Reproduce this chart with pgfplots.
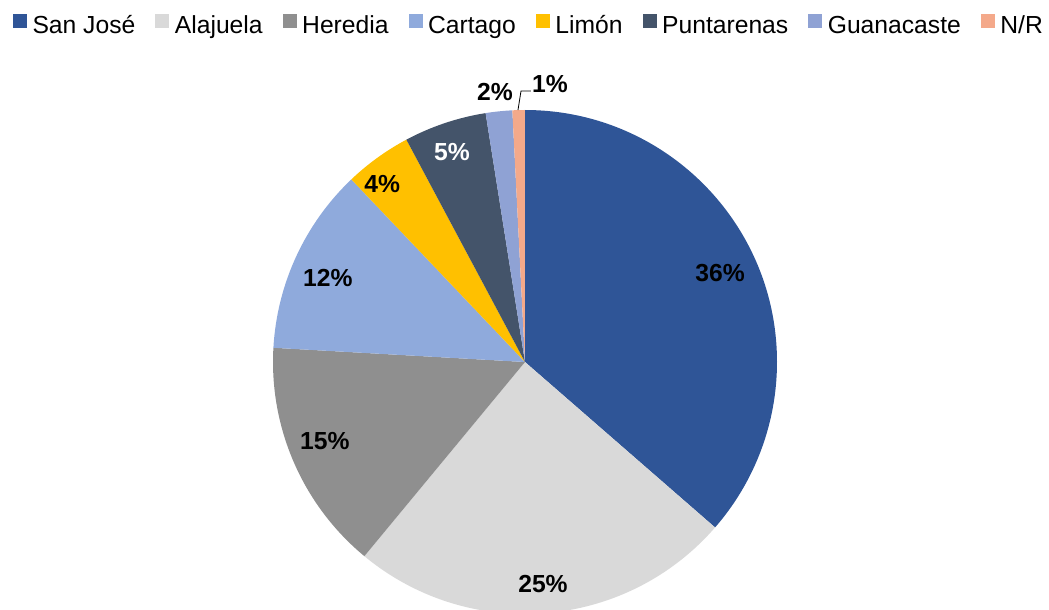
\documentclass[border=0pt]{standalone}
\usepackage{pgfplots}
\pgfplotsset{compat=1.18}
\usepackage{fontspec}
\setmainfont{Liberation Sans}
\definecolor{cSJ}{HTML}{2F5597}
\definecolor{cAL}{HTML}{D9D9D9}
\definecolor{cHE}{HTML}{8F8F8F}
\definecolor{cCA}{HTML}{8FAADC}
\definecolor{cLI}{HTML}{FFC000}
\definecolor{cPU}{HTML}{44546A}
\definecolor{cGU}{HTML}{8FA2D4}
\definecolor{cNR}{HTML}{F4A98A}
% slice: colour, cumulative percent at start, cumulative percent at end
\newcommand{\slice}[3]{\fill[#1] (axis cs:0,0) -- ++({90-3.6*#2}:189pt) arc[start angle={90-3.6*#2}, end angle={90-3.6*#3}, radius=189pt] -- cycle;}
\newcommand{\lab}{\bfseries\fontsize{18.5}{22}\selectfont}
\begin{document}
\begin{tikzpicture}
\begin{axis}[
  hide axis, scale only axis,
  x=189pt, y=189pt,
  xmin=-2.0833, xmax=2.0794, ymin=-0.984, ymax=1.4365,
  clip=false,
  legend columns=8,
  legend style={draw=none, fill=none, inner sep=0pt, outer sep=0pt,
    at={(axis cs:-2.0317,1.337)}, anchor=west,
    font=\fontsize{18.5}{22}\selectfont,
    nodes={inner sep=0pt},
    /tikz/every odd column/.append style={column sep=4.5pt},
    /tikz/every even column/.append style={column sep=15pt}},
  legend image code/.code={\fill[#1] (0pt,-1.2pt) rectangle (9.75pt,8.55pt);},
]
\addlegendimage{cSJ}\addlegendentry{San José}
\addlegendimage{cAL}\addlegendentry{Alajuela}
\addlegendimage{cHE}\addlegendentry{Heredia}
\addlegendimage{cCA}\addlegendentry{Cartago}
\addlegendimage{cLI}\addlegendentry{Limón}
\addlegendimage{cPU}\addlegendentry{Puntarenas}
\addlegendimage{cGU}\addlegendentry{Guanacaste}
\addlegendimage{cNR}\addlegendentry{N/R}
\slice{cSJ}{0}{36.4}
\slice{cAL}{36.4}{61.0}
\slice{cHE}{61.0}{75.9}
\slice{cCA}{75.9}{87.9}
\slice{cLI}{87.9}{92.2}
\slice{cPU}{92.2}{97.5}
\slice{cGU}{97.5}{99.2}
\slice{cNR}{99.2}{100}
\node[font=\lab] at (axis cs:0.774,0.353) {36\%};
\node[font=\lab] at (axis cs:0.0714,-0.881) {25\%};
\node[font=\lab] at (axis cs:-0.794,-0.313) {15\%};
\node[font=\lab] at (axis cs:-0.782,0.333) {12\%};
\node[font=\lab] at (axis cs:-0.567,0.706) {4\%};
\node[font=\lab, text=white] at (axis cs:-0.290,0.833) {5\%};
\node[font=\lab] at (axis cs:-0.119,1.071) {2\%};
\node[font=\lab] at (axis cs:0.0992,1.103) {1\%};
\draw[black, line width=0.6pt] (axis cs:-0.0278,1.0) -- (axis cs:-0.0159,1.075) -- (axis cs:0.0238,1.075);
\coordinate (BL) at (axis cs:-2.0833,-0.984);
\coordinate (TR) at (axis cs:2.0794,1.4365);
\end{axis}
\pgfresetboundingbox
\path[use as bounding box] (BL) rectangle (TR);
\end{tikzpicture}
\end{document}
